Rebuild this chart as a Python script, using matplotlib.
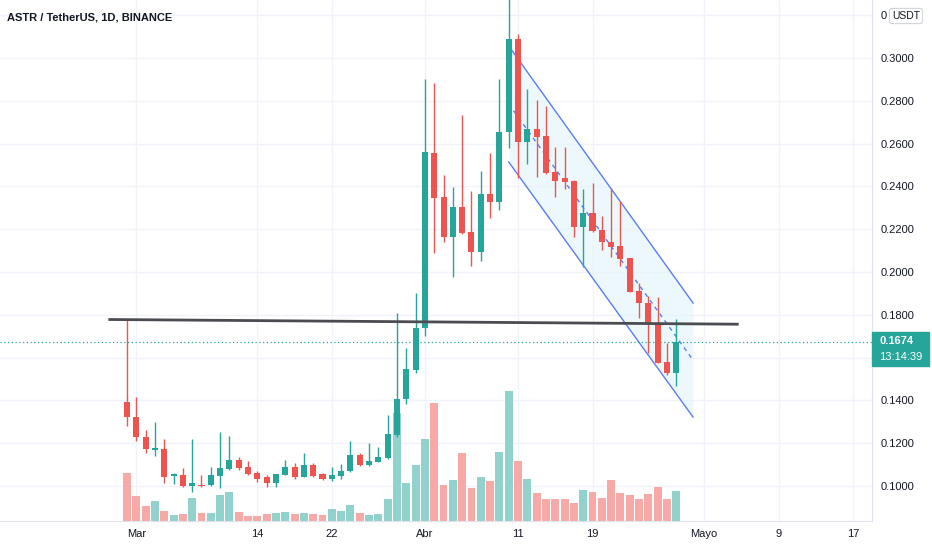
import numpy as np
import matplotlib.pyplot as plt
from matplotlib.patches import Rectangle
from matplotlib import transforms

plt.rcParams['font.family'] = ['Liberation Sans', 'DejaVu Sans']

# daily candles, Feb 28 .. Apr 28 (index 0 = Feb 28)
opens = [0.1394, 0.1321, 0.1230, 0.1170, 0.1173, 0.1045, 0.1053, 0.0999, 0.1006, 0.1003,
         0.1048, 0.1079, 0.1121, 0.1087, 0.1062, 0.1041, 0.1016, 0.1053, 0.1087, 0.1044,
         0.1097, 0.1056, 0.1033, 0.1047, 0.1069, 0.1145, 0.1098, 0.1114, 0.1129, 0.1237,
         0.1405, 0.1542, 0.1740, 0.2558, 0.2349, 0.2165, 0.2302, 0.2186, 0.2092, 0.2364,
         0.2327, 0.2653, 0.3087, 0.2606, 0.2670, 0.2636, 0.2467, 0.2438, 0.2427, 0.2209,
         0.2274, 0.2196, 0.2142, 0.2121, 0.2064, 0.1913, 0.1854, 0.1760, 0.1581, 0.1527]
highs = [0.1780, 0.1414, 0.1262, 0.1301, 0.1218, 0.1062, 0.1083, 0.1220, 0.1051, 0.1087,
         0.1254, 0.1235, 0.1134, 0.1117, 0.1070, 0.1051, 0.1058, 0.1121, 0.1109, 0.1153,
         0.1106, 0.1062, 0.1090, 0.1103, 0.1209, 0.1153, 0.1199, 0.1184, 0.1332, 0.1807,
         0.1644, 0.1903, 0.2900, 0.2885, 0.2453, 0.2396, 0.2734, 0.2380, 0.2472, 0.2555,
         0.2900, 0.3350, 0.3112, 0.2854, 0.2804, 0.2777, 0.2583, 0.2583, 0.2430, 0.2388,
         0.2417, 0.2262, 0.2391, 0.2333, 0.2066, 0.1947, 0.1888, 0.1882, 0.1670, 0.1779]
lows = [0.1280, 0.1212, 0.1153, 0.1142, 0.1016, 0.1008, 0.0997, 0.0974, 0.0997, 0.0999,
        0.0992, 0.1075, 0.1075, 0.1051, 0.1018, 0.0994, 0.0994, 0.1050, 0.1034, 0.1044,
        0.1041, 0.1030, 0.1022, 0.1034, 0.1065, 0.1095, 0.1095, 0.1110, 0.1128, 0.1231,
        0.1383, 0.1527, 0.1700, 0.2090, 0.2139, 0.1978, 0.2178, 0.2030, 0.2051, 0.2251,
        0.2290, 0.2578, 0.2440, 0.2505, 0.2443, 0.2460, 0.2349, 0.2386, 0.2162, 0.2022,
        0.2188, 0.2103, 0.2069, 0.2028, 0.1906, 0.1784, 0.1620, 0.1574, 0.1519, 0.1467]
closes = [0.1321, 0.1228, 0.1171, 0.1176, 0.1044, 0.1056, 0.0999, 0.1013, 0.0999, 0.1051,
          0.1083, 0.1121, 0.1086, 0.1055, 0.1034, 0.1013, 0.1056, 0.1087, 0.1041, 0.1097,
          0.1047, 0.1034, 0.1050, 0.1072, 0.1145, 0.1098, 0.1118, 0.1134, 0.1242, 0.1408,
          0.1547, 0.1740, 0.2562, 0.2347, 0.2162, 0.2302, 0.2184, 0.2092, 0.2364, 0.2326,
          0.2654, 0.3087, 0.2606, 0.2670, 0.2632, 0.2464, 0.2427, 0.2422, 0.2209, 0.2274,
          0.2193, 0.2139, 0.2119, 0.2062, 0.1908, 0.1854, 0.1757, 0.1576, 0.1527, 0.1674]
volumes = [48.3, 24.7, 14.7, 20, 10, 6, 7.3, 23.3, 8, 8, 25.7, 29, 9.3, 4.7, 5.5,
           6.7, 7.7, 9.3, 7.3, 8, 7.3, 6, 12.3, 10, 16, 8, 6, 7, 22.3, 108, 37.7, 56,
           82.3, 118.3, 35.7, 40.7, 68, 33.3, 44, 39.7, 69, 130, 60.3, 42, 27.7, 22.3,
           22.3, 22.3, 18, 31, 29, 23.3, 40.7, 27.7, 25.7, 22, 26.7, 34.3, 22, 30]

# x axis labels (day index from Feb 28)
tick_days = [1, 14, 22, 32, 42, 50, 62, 70, 78]
tick_labels = ['Mar', '14', '22', 'Abr', '11', '19', 'Mayo', '9', '17']
price_ticks = [0.10, 0.12, 0.14, 0.16, 0.18, 0.20, 0.22, 0.24, 0.26, 0.28, 0.30, 0.32]

# drawings
channel_x = [41.0, 60.8]
channel_top = [0.3056, 0.1855]
channel_bot = [0.2514, 0.1322]
hline_x = [-2.0, 65.7]
hline_y = [0.1778, 0.1756]
last_price = 0.1674

GREEN = '#26a69a'
RED = '#ef5350'
VGREEN = '#92d2cc'
VRED = '#f7a9a7'
GRID = '#f0f3fa'
TXT = '#131722'

W, H = 932, 550
fig = plt.figure(figsize=(W / 100, H / 100), dpi=100)
rect = [0, 29 / H, 872 / W, 521 / H]
axv = fig.add_axes(rect)
ax = fig.add_axes(rect, sharex=axv)
ax.patch.set_visible(False)

idx = np.arange(len(opens))
o = np.array(opens); c = np.array(closes)
up = c >= o

# volume (bottom layer)
axv.bar(idx, volumes, width=0.85, color=np.where(up, VGREEN, VRED), zorder=2)
axv.set_ylim(0, 521)
axv.set_yticks([])
axv.tick_params(axis='x', length=0, labelbottom=False)
axv.grid(axis='x', color=GRID, lw=1)
axv.set_axisbelow(True)
for s in axv.spines.values():
    s.set_visible(False)
blend = transforms.blended_transform_factory(axv.transAxes, ax.transData)
for p in price_ticks:
    axv.plot([0, 1], [p, p], transform=blend, color=GRID, lw=1, zorder=0)

# channel
ax.fill_between(channel_x, channel_bot, channel_top, color='#e4f6fa', alpha=0.7, lw=0, zorder=1)
ax.plot(channel_x, channel_top, color='#5b7cf2', lw=1, zorder=2)
ax.plot(channel_x, channel_bot, color='#5b7cf2', lw=1, zorder=2)
ax.plot(channel_x, [(a + b) / 2 for a, b in zip(channel_top, channel_bot)],
        color='#5b7cf2', lw=1, ls=(0, (3, 3)), zorder=2)

# candles
cols = np.where(up, GREEN, RED)
ax.vlines(idx, lows, highs, colors=cols, lw=1, zorder=3)
body_h = np.maximum(np.abs(c - o), 0.0007)
ax.bar(idx, body_h, bottom=np.minimum(o, c), width=0.65, color=cols, zorder=4)

ax.plot(hline_x, hline_y, color='#4a4c52', lw=2, solid_capstyle='butt', zorder=5)
ax.axhline(last_price, color=GREEN, lw=0.9, ls=(0, (1, 2)), zorder=2)

ax.set_xlim(-13.64, 80.02)
ax.set_ylim(0.08364, 0.32710)
ax.set_xticks(tick_days)
ax.set_xticklabels(tick_labels)
ax.yaxis.tick_right()
ax.set_yticks(price_ticks)
ylabels = []
for p in price_ticks:
    if abs(p - 0.16) < 1e-6:
        ylabels.append('')      # hidden behind the price tag
    elif abs(p - 0.32) < 1e-6:
        ylabels.append('0')     # rest covered by the USDT tag
    else:
        ylabels.append('%.4f' % p)
ax.set_yticklabels(ylabels)
ax.tick_params(axis='y', length=0, pad=6, labelsize=8, labelcolor=TXT)
ax.tick_params(axis='x', length=0, pad=6, labelsize=8, labelcolor=TXT)
for side in ['top', 'left']:
    ax.spines[side].set_visible(False)
for side in ['right', 'bottom']:
    ax.spines[side].set_color('#e0e3eb')

def fx(x):
    return x / W

def fy(y):
    return 1 - y / H

fig.text(fx(7), fy(17), 'ASTR / TetherUS, 1D, BINANCE', fontsize=8, weight='bold',
         color=TXT, va='center', ha='left')
fig.text(fx(906), fy(16), 'USDT', fontsize=7.5, color=TXT, ha='center', va='center',
         bbox=dict(boxstyle='round,pad=0.25', fc='white', ec='#d1d4dc', lw=0.8), zorder=6)
fig.patches.append(Rectangle((fx(872), fy(366)), 57 / W, 34 / H, transform=fig.transFigure,
                             color=GREEN, zorder=5))
fig.text(fx(879), fy(341), '%.4f' % last_price, fontsize=8, color='white', weight='bold',
         va='center', ha='left', zorder=6)
fig.text(fx(879), fy(357), '13:14:39', fontsize=8, color='white', va='center', ha='left', zorder=6)

fig.savefig('out.png', dpi=100)
